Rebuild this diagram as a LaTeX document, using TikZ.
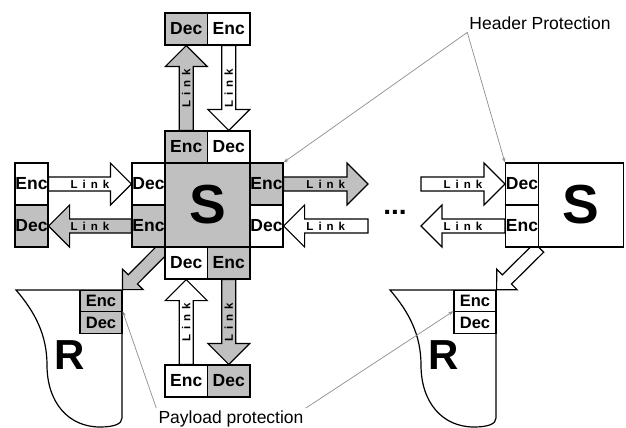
\documentclass[tikz,border=0pt]{standalone}
\usepackage{fontspec}
\setmainfont{Liberation Sans}
\usetikzlibrary{arrows.meta, calc, backgrounds}
\definecolor{cellGray}{HTML}{C0C0C0}
\definecolor{noteGray}{HTML}{8C8C8C}

% outlined block arrow: from, to, fill, shaft half width, head half width, head length
\newcommand{\blockarrow}[6]{%
  \coordinate (ba-h) at ($(#2)!#6!(#1)$);
  \draw[blockline, fill=#3]
    ($(#1)!#4!90:(#2)$) -- ($(ba-h)!#4!-90:(#1)$) -- ($(ba-h)!#5!-90:(#1)$)
    -- (#2) -- ($(ba-h)!#5!90:(#1)$) -- ($(ba-h)!#4!90:(#1)$)
    -- ($(#1)!#4!-90:(#2)$) -- cycle;}
\newcounter{linkno}
\newcommand{\linkarrow}[4][0]{%
  \blockarrow{#2}{#3}{#4}{7pt}{21pt}{21pt}
  \stepcounter{linkno}
  \node[linktext, rotate=#1] (link\thelinkno) at ($(#2)!0.5!(#3)$)
    {L\hspace{5pt}i\hspace{5pt}n\hspace{5pt}k};}

\begin{document}
\begin{tikzpicture}[x=1pt, y=-1pt,
  cell/.style={draw, line width=1.2pt, inner sep=0pt,
               font=\fontsize{17.5}{18}\selectfont\bfseries},
  hcell/.style={cell, minimum width=42.5, minimum height=32},
  vcell/.style={cell, minimum width=33, minimum height=42},
  rcell/.style={cell, minimum width=42, minimum height=21.5,
                font=\fontsize{16.5}{17}\selectfont\bfseries},
  dark/.style={fill=cellGray},
  light/.style={fill=white},
  big/.style={font=\fontsize{55}{55}\selectfont\bfseries},
  blockline/.style={draw=black, line width=1.2pt, line join=miter},
  linktext/.style={font=\fontsize{11.5}{12}\selectfont\bfseries, inner sep=0pt},
  note/.style={font=\fontsize{17.5}{18}\selectfont, inner sep=2pt},
  pointer/.style={draw=noteGray, line width=0.7pt, -{Stealth[length=5pt, width=3.5pt]}}]
  \useasboundingbox (0,0) rectangle (626,428);

  % switch with its four ports
  \node[cell, dark, big, minimum width=85, minimum height=84] (S) at (207.5,205) {S};
  \node[hcell, dark]  (sn-enc) at (186.25,147) {Enc};
  \node[hcell, light] (sn-dec) at (228.75,147) {Dec};
  \node[vcell, light] (sw-dec) at (148.5,184) {Dec};
  \node[vcell, dark]  (sw-enc) at (148.5,226) {Enc};
  \node[vcell, dark]  (se-enc) at (266.5,184) {Enc};
  \node[vcell, light] (se-dec) at (266.5,226) {Dec};
  \node[hcell, light] (ss-dec) at (186.25,263) {Dec};
  \node[hcell, dark]  (ss-enc) at (228.75,263) {Enc};

  % neighbours
  \node[hcell, dark]  (n-dec) at (186.25,29) {Dec};
  \node[hcell, light] (n-enc) at (228.75,29) {Enc};
  \node[hcell, light] (s-enc) at (186.25,381) {Enc};
  \node[hcell, dark]  (s-dec) at (228.75,381) {Dec};
  \node[vcell, light] (w-enc) at (31.5,184) {Enc};
  \node[vcell, dark]  (w-dec) at (31.5,226) {Dec};

  % far switch
  \node[cell, light, big, minimum width=85, minimum height=84] (S2) at (581,205) {S};
  \node[vcell, light] (e-dec) at (522,184) {Dec};
  \node[vcell, light] (e-enc) at (522,226) {Enc};

  % routers
  \node[rcell, dark]  (r1-enc) at (101,301) {Enc};
  \node[rcell, dark]  (r1-dec) at (101,322.5) {Dec};
  \node[rcell, light] (r2-enc) at (475,301) {Enc};
  \node[rcell, light] (r2-dec) at (475,322.5) {Dec};
  \node[font=\fontsize{42}{42}\selectfont\bfseries] (r1-let) at (70,355) {R};
  \node[font=\fontsize{42}{42}\selectfont\bfseries] (r2-let) at (444,355) {R};

  \begin{scope}[on background layer]
    \foreach \dx in {0,374} {
      \draw[line width=1.2pt, shift={(\dx,0)}] (122,290) -- (16,290)
        .. controls (35,312) and (47,335) .. (47,365)
        .. controls (47,402) and (68,427) .. (100,427)
        .. controls (114,427) and (122,424) .. (122,418) -- cycle;
    }
    \blockarrow{S.south west}{r1-enc.north east}{cellGray}{6.5pt}{14.5pt}{14.5pt}
    \blockarrow{e-enc.south east}{r2-enc.north east}{white}{6.5pt}{14.5pt}{14.5pt}
  \end{scope}

  % links
  \coordinate (gap-out) at (368,184);
  \coordinate (gap-in)  at (368,226);
  \coordinate (far-in)  at (421,184);
  \coordinate (far-out) at (421,226);
  \linkarrow[90]{sn-enc.north}{n-dec.south}{cellGray}
  \linkarrow[90]{n-enc.south}{sn-dec.north}{white}
  \linkarrow{w-enc.east}{sw-dec.west}{white}
  \linkarrow{sw-enc.west}{w-dec.east}{cellGray}
  \linkarrow{se-enc.east}{gap-out}{cellGray}
  \linkarrow{gap-in}{se-dec.east}{white}
  \linkarrow[90]{s-enc.north}{ss-dec.south}{white}
  \linkarrow[90]{ss-enc.south}{s-dec.north}{cellGray}
  \linkarrow{far-in}{e-dec.west}{white}
  \linkarrow{e-enc.west}{far-out}{white}
  \node[font=\fontsize{28}{28}\selectfont\bfseries, anchor=base] (dots) at (395,214) {...};

  % annotations
  \node[note, anchor=base] (hp) at (540,30) {Header Protection};
  \node[note, anchor=base] (pp) at (231,423) {Payload protection};
  \draw[pointer] (hp.south west) -- (se-enc.north east);
  \draw[pointer] (hp.south west) -- (e-dec.north west);
  \draw[pointer] (pp.north west) -- (r1-dec.north east);
  \draw[pointer] (pp.north east) -- (r2-dec.north west);
\end{tikzpicture}
\end{document}
